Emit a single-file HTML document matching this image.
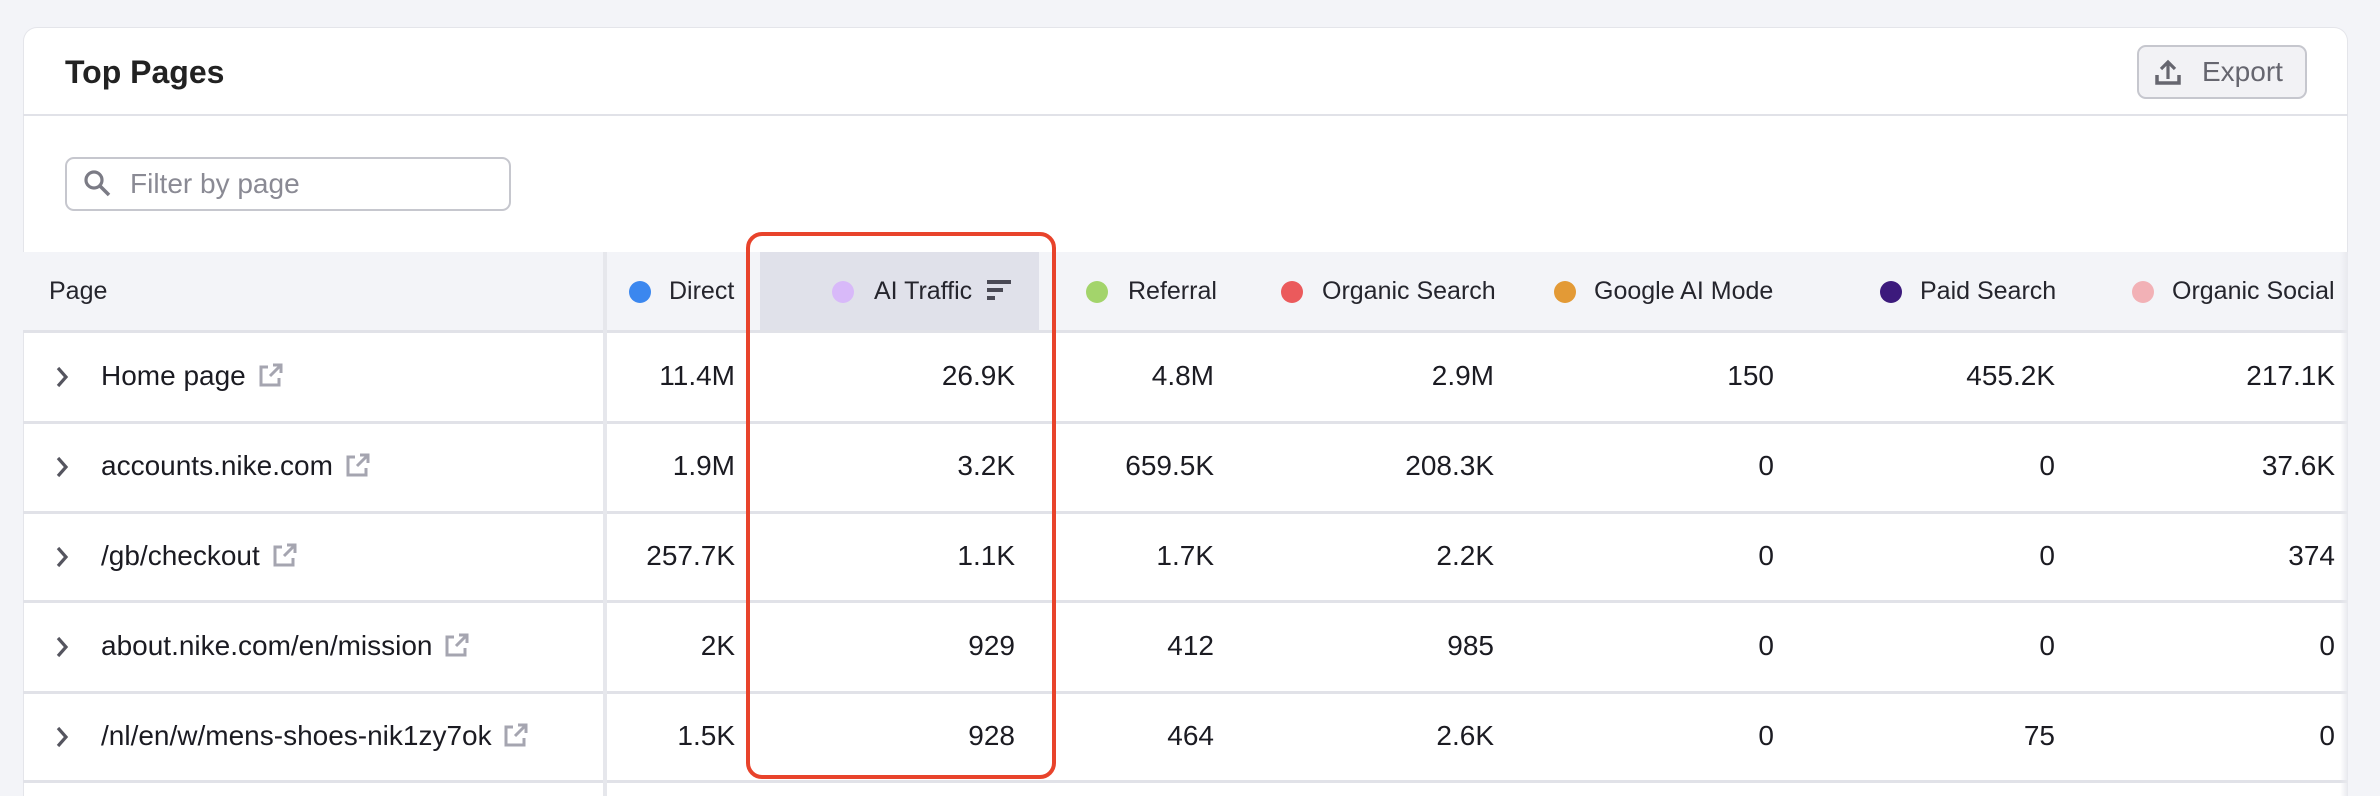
<!DOCTYPE html>
<html><head><meta charset="utf-8"><style>
*{margin:0;padding:0;box-sizing:border-box}
html,body{width:2380px;height:796px;overflow:hidden}
body{background:#f3f4f8;font-family:"Liberation Sans",sans-serif;position:relative;color:#1b1b22}
.a{position:absolute}
.card{left:23px;top:27px;width:2325px;height:769px;background:#fff;border:1px solid #e4e5ea;border-bottom:none;border-radius:14px 14px 0 0}
.t{white-space:nowrap}
.dot{position:absolute;width:22px;height:22px;border-radius:50%}
.h{font-size:25px;color:#25252d;top:277px}
.v{font-size:28px;color:#1b1b22;text-align:right;width:300px}
.p{font-size:28px;color:#1b1b22}
.line{left:23px;width:2325px;height:3px;background:#e1e2e8}
</style></head><body>
<div class="a card"></div>
<div class="a t" style="left:65px;top:54px;font-size:32px;font-weight:bold;color:#222">Top Pages</div>
<div class="a" style="left:2137px;top:45px;width:170px;height:54px;border:2px solid #c6c7ce;border-radius:9px;background:#f2f2f5"></div>
<svg class="a" style="left:2153px;top:58px" width="30" height="30" viewBox="0 0 30 30"><path d="M4 17v8h22v-8" fill="none" stroke="#66666f" stroke-width="3.5"/><path d="M15 21V4M8 11l7-7 7 7" fill="none" stroke="#66666f" stroke-width="3.2"/></svg>
<div class="a t" style="left:2202px;top:56px;font-size:28px;color:#66666f">Export</div>
<div class="a line" style="top:114px;height:2px"></div>
<div class="a" style="left:65px;top:157px;width:446px;height:54px;border:2px solid #c6c7ce;border-radius:9px"></div>
<svg class="a" style="left:82px;top:168px" width="32" height="32" viewBox="0 0 32 32"><circle cx="12" cy="12" r="8" fill="none" stroke="#7b7b85" stroke-width="3.2"/><path d="M18 18l9 9" stroke="#7b7b85" stroke-width="3.5"/></svg>
<div class="a t" style="left:130px;top:168px;font-size:28px;color:#8a8a94">Filter by page</div>
<div class="a" style="left:23px;top:252px;width:2325px;height:80px;background:#f3f4f8"></div>
<div class="a" style="left:760px;top:252px;width:279px;height:80px;background:#e0e1ea"></div>
<div class="a line" style="top:330px"></div>
<div class="a line" style="top:421px"></div>
<div class="a line" style="top:511px"></div>
<div class="a line" style="top:600px"></div>
<div class="a line" style="top:691px"></div>
<div class="a line" style="top:780px"></div>
<div class="a" style="left:603px;top:252px;width:4px;height:544px;background:#e6e7ec"></div>
<div class="a" style="left:2340px;top:252px;width:8px;height:544px;background:linear-gradient(90deg,#fff0,#e8e9ee)"></div>
<div class="a t h" style="left:49px">Page</div>
<div class="dot" style="left:629px;top:281px;background:#3b87ef"></div><div class="a t h" style="left:669px">Direct</div>
<div class="dot" style="left:832px;top:281px;background:#d8b9f9"></div><div class="a t h" style="left:874px">AI Traffic</div>
<svg class="a" style="left:987px;top:280px" width="26" height="22"><rect x="0" y="0" width="24" height="4" fill="#4a4a55"/><rect x="0" y="8" width="16" height="4" fill="#4a4a55"/><rect x="0" y="16" width="8" height="4" fill="#4a4a55"/></svg>
<div class="dot" style="left:1086px;top:281px;background:#a3d46b"></div><div class="a t h" style="left:1128px">Referral</div>
<div class="dot" style="left:1281px;top:281px;background:#eb5a5c"></div><div class="a t h" style="left:1322px">Organic Search</div>
<div class="dot" style="left:1554px;top:281px;background:#e39a36"></div><div class="a t h" style="left:1594px">Google AI Mode</div>
<div class="dot" style="left:1880px;top:281px;background:#3c1a7c"></div><div class="a t h" style="left:1920px">Paid Search</div>
<div class="dot" style="left:2132px;top:281px;background:#f2b1b6"></div><div class="a t h" style="left:2172px">Organic Social</div>
<div class="a" style="left:746px;top:232px;width:310px;height:547px;border:4px solid #e8432b;border-radius:16px"></div>
<div id="rows"></div>
<script>
var rows=[["Home page","11.4M","26.9K","4.8M","2.9M","150","455.2K","217.1K"],
["accounts.nike.com","1.9M","3.2K","659.5K","208.3K","0","0","37.6K"],
["/gb/checkout","257.7K","1.1K","1.7K","2.2K","0","0","374"],
["about.nike.com/en/mission","2K","929","412","985","0","0","0"],
["/nl/en/w/mens-shoes-nik1zy7ok","1.5K","928","464","2.6K","0","75","0"]];
var ends=[735,1015,1214,1494,1774,2055,2335],h="";
rows.forEach(function(r,i){var y=360+i*90;
h+='<svg class="a" style="left:55px;top:'+(y+5)+'px" width="14" height="24"><path d="M3 3l8 9-8 9" fill="none" stroke="#55555f" stroke-width="3.2"/></svg>';
h+='<div class="a t p" style="left:101px;top:'+(y)+'px"><span>'+r[0]+'</span> <svg width="26" height="26" viewBox="0 0 26 26" style="vertical-align:-3px;margin-left:4px"><path d="M10 5H3v18h18v-7" fill="none" stroke="#a5a5b0" stroke-width="3"/><path d="M12 14L23 3M15 3h8v8" fill="none" stroke="#a5a5b0" stroke-width="3"/></svg></div>';
for(var k=1;k<8;k++)h+='<div class="a t v" style="left:'+(ends[k-1]-300)+'px;top:'+y+'px">'+r[k]+'</div>';});
document.getElementById('rows').innerHTML=h;
</script>
</body></html>
